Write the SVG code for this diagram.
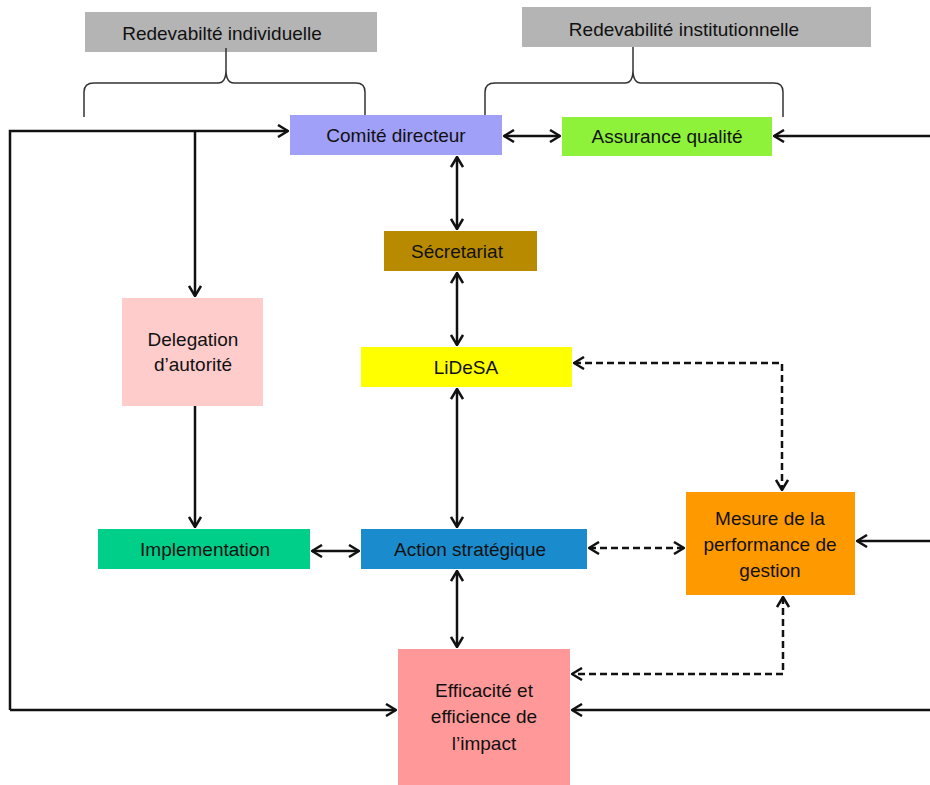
<svg xmlns="http://www.w3.org/2000/svg" width="930" height="785" viewBox="0 0 930 785">
<defs>
<style>
text{font-family:"Liberation Sans",Arial,sans-serif;font-size:19px;fill:#111;text-anchor:middle}
.ln{fill:none;stroke:#111;stroke-width:2.5}
.ds{fill:none;stroke:#111;stroke-width:2.5;stroke-dasharray:7,4}
.br{fill:none;stroke:#333;stroke-width:1.5}
</style>
<marker id="ah" viewBox="0 0 12 14" refX="11" refY="7" markerWidth="12" markerHeight="14" markerUnits="userSpaceOnUse" orient="auto-start-reverse">
<path d="M1,1 L11,7 L1,13" fill="none" stroke="#111" stroke-width="2.5"/>
</marker>
</defs>
<rect width="930" height="785" fill="#fff"/>

<g id="label-individuelle">
<rect x="85" y="12" width="292" height="40" fill="#b4b4b4"/>
<text x="222" y="40">Redevabilté individuelle</text>
</g>
<g id="label-institutionnelle">
<rect x="522" y="7" width="349" height="40" fill="#b4b4b4"/>
<text x="684" y="36">Redevabilité institutionnelle</text>
</g>
<g id="braces">
<path class="br" d="M84,117 L84,92 Q84,83 94,83 L218,83 Q226,83 226,70 L226,48 M226,70 Q226,83 234,83 L356,83 Q365,83 365,92 L365,117"/>
<path class="br" d="M485,117 L485,92 Q485,83 495,83 L625,83 Q633,83 633,70 L633,47 M633,70 Q633,83 641,83 L774,83 Q783,83 783,92 L783,117"/>
</g>

<g id="connectors">
<path class="ln" d="M10,710 L10,131 L288,131" marker-end="url(#ah)"/>
<path class="ln" d="M10,710 L396,710" marker-end="url(#ah)"/>
<path class="ln" d="M195,131 L195,296" marker-end="url(#ah)"/>
<path class="ln" d="M195,406 L195,527" marker-end="url(#ah)"/>
<path class="ln" d="M504,136 L560,136" marker-start="url(#ah)" marker-end="url(#ah)"/>
<path class="ln" d="M930,136 L774,136" marker-end="url(#ah)"/>
<path class="ln" d="M457,157 L457,229" marker-start="url(#ah)" marker-end="url(#ah)"/>
<path class="ln" d="M457,273 L457,345" marker-start="url(#ah)" marker-end="url(#ah)"/>
<path class="ln" d="M457,389 L457,527" marker-start="url(#ah)" marker-end="url(#ah)"/>
<path class="ln" d="M312,551 L359,551" marker-start="url(#ah)" marker-end="url(#ah)"/>
<path class="ln" d="M457,571 L457,647" marker-start="url(#ah)" marker-end="url(#ah)"/>
<path class="ds" d="M589,548 L684,548" marker-start="url(#ah)" marker-end="url(#ah)"/>
<path class="ds" d="M574,363 L782,363 L782,490" marker-start="url(#ah)" marker-end="url(#ah)"/>
<path class="ds" d="M783,597 L783,674 L572,674" marker-start="url(#ah)" marker-end="url(#ah)"/>
<path class="ln" d="M930,541 L857,541" marker-end="url(#ah)"/>
<path class="ln" d="M930,710 L572,710" marker-end="url(#ah)"/>
</g>

<g id="comite">
<rect x="290" y="115" width="212" height="40" fill="#a0a0f8"/>
<text x="396" y="142">Comité directeur</text>
</g>
<g id="assurance">
<rect x="562" y="117" width="210" height="39" fill="#8ef23a"/>
<text x="667" y="143">Assurance qualité</text>
</g>
<g id="secretariat">
<rect x="384" y="231" width="153" height="40" fill="#b88a00"/>
<text x="457" y="258">Sécretariat</text>
</g>
<g id="lidesa">
<rect x="361" y="347" width="211" height="40" fill="#ffff00"/>
<text x="466" y="374">LiDeSA</text>
</g>
<g id="delegation">
<rect x="122" y="298" width="141" height="108" fill="#ffcccc"/>
<text x="193" y="346">Delegation</text>
<text x="193" y="371">d’autorité</text>
</g>
<g id="implementation">
<rect x="98" y="529" width="212" height="40" fill="#00cf8a"/>
<text x="205" y="556">Implementation</text>
</g>
<g id="action">
<rect x="361" y="529" width="226" height="40" fill="#1a8ccd"/>
<text x="470" y="556">Action stratégique</text>
</g>
<g id="mesure">
<rect x="686" y="492" width="169" height="103" fill="#ff9900"/>
<text x="770" y="525">Mesure de la</text>
<text x="770" y="551">performance de</text>
<text x="770" y="577">gestion</text>
</g>
<g id="efficacite">
<rect x="398" y="649" width="172" height="136" fill="#ff9999"/>
<text x="484" y="697">Efficacité et</text>
<text x="484" y="723">efficience de</text>
<text x="484" y="750">l’impact</text>
</g>
</svg>
